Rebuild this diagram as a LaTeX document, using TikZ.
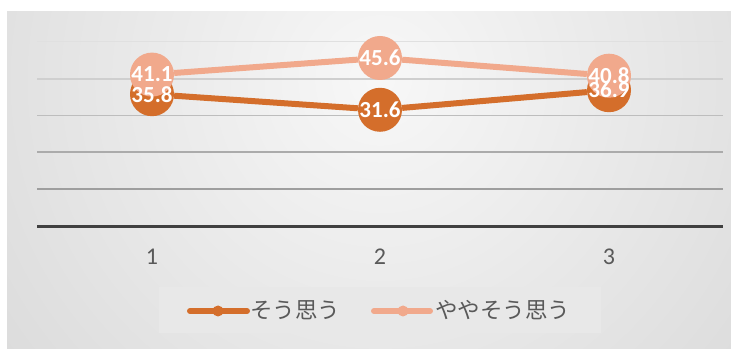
\documentclass[tikz,border=0pt]{standalone}
\usepackage{fontspec}
\setmainfont{Carlito}
\newfontfamily\jpfont{Noto Sans CJK JP}
\usepackage{tikz}
\definecolor{sou}{HTML}{D46E2B}
\definecolor{yaya}{HTML}{F1A98C}
\definecolor{txtgray}{HTML}{595959}

\begin{document}
\begin{tikzpicture}[x=1pt, y=-1pt]
\tikzstyle{grid}=[line width=1.6pt]
\tikzstyle{dotA}=[circle, fill=sou, minimum size=44pt, inner sep=0pt]
\tikzstyle{dotB}=[circle, fill=yaya, minimum size=44pt, inner sep=0pt]
\tikzstyle{val}=[text=white, font=\fontsize{23}{23}\selectfont\bfseries, inner sep=0pt]
\tikzstyle{tick}=[text=txtgray, font=\fontsize{24}{24}\selectfont]
\tikzstyle{legtext}=[text=txtgray, font=\jpfont\fontsize{22.5}{22.5}\selectfont, anchor=west, inner sep=0pt]
\useasboundingbox (0,0) rectangle (731,355);
\begin{scope}
\clip (7,12) rectangle (731,349);
\shade[inner color=black!3, outer color=black!22] (380,80) circle (820pt);
\end{scope}
\foreach \y/\c in {41.7/12,79/19,115.7/26,152.3/33,189.3/38}
  \draw[grid, draw=black!\c] (37,\y) -- (723,\y);
\draw[draw=black!75, line width=3.5pt] (37,226.7) -- (723,226.7);

\node[tick] (X1) at (152,257) {1};
\node[tick] (X2) at (380,257) {2};
\node[tick] (X3) at (609,257) {3};

\node[dotA] (A1) at (152,94.2) {};
\node[dotA] (A2) at (380,109.8) {};
\node[dotA] (A3) at (609,90.2) {};
\path[draw=sou, line width=6pt] (A1) edge (A2)
  (A2) edge (A3);
\node[dotB] (B1) at (152,74.6) {};
\node[dotB] (B2) at (380,58) {};
\node[dotB] (B3) at (609,75.7) {};
\path[draw=yaya, line width=6pt] (B1) edge (B2)
  (B2) edge (B3);

\node[val] (VA1) at (A1) {35.8};
\node[val] (VA2) at (A2) {31.6};
\node[val] (VA3) at (A3) {36.9};
\node[val] (VB1) at (B1) {41.1};
\node[val] (VB2) at (B2) {45.6};
\node[val] (VB3) at (B3) {40.8};

% legend
\node[fill=black!9, minimum width=442pt, minimum height=46pt, inner sep=0pt] (leg) at (380,310) {};
\coordinate (LA1) at (190,311);
\coordinate (LA2) at (247,311);
\draw[sou, line width=6pt, line cap=round] (LA1) -- (LA2);
\node[circle, fill=sou, minimum size=11pt, inner sep=0pt] (MA) at (218,311) {};
\node[legtext] (TA) at (250,310) {そう思う};
\coordinate (LB1) at (374,311);
\coordinate (LB2) at (430,311);
\draw[yaya, line width=6pt, line cap=round] (LB1) -- (LB2);
\node[circle, fill=yaya, minimum size=11pt, inner sep=0pt] (MB) at (403,311) {};
\node[legtext] (TB) at (435,310) {ややそう思う};
\end{tikzpicture}
\end{document}
